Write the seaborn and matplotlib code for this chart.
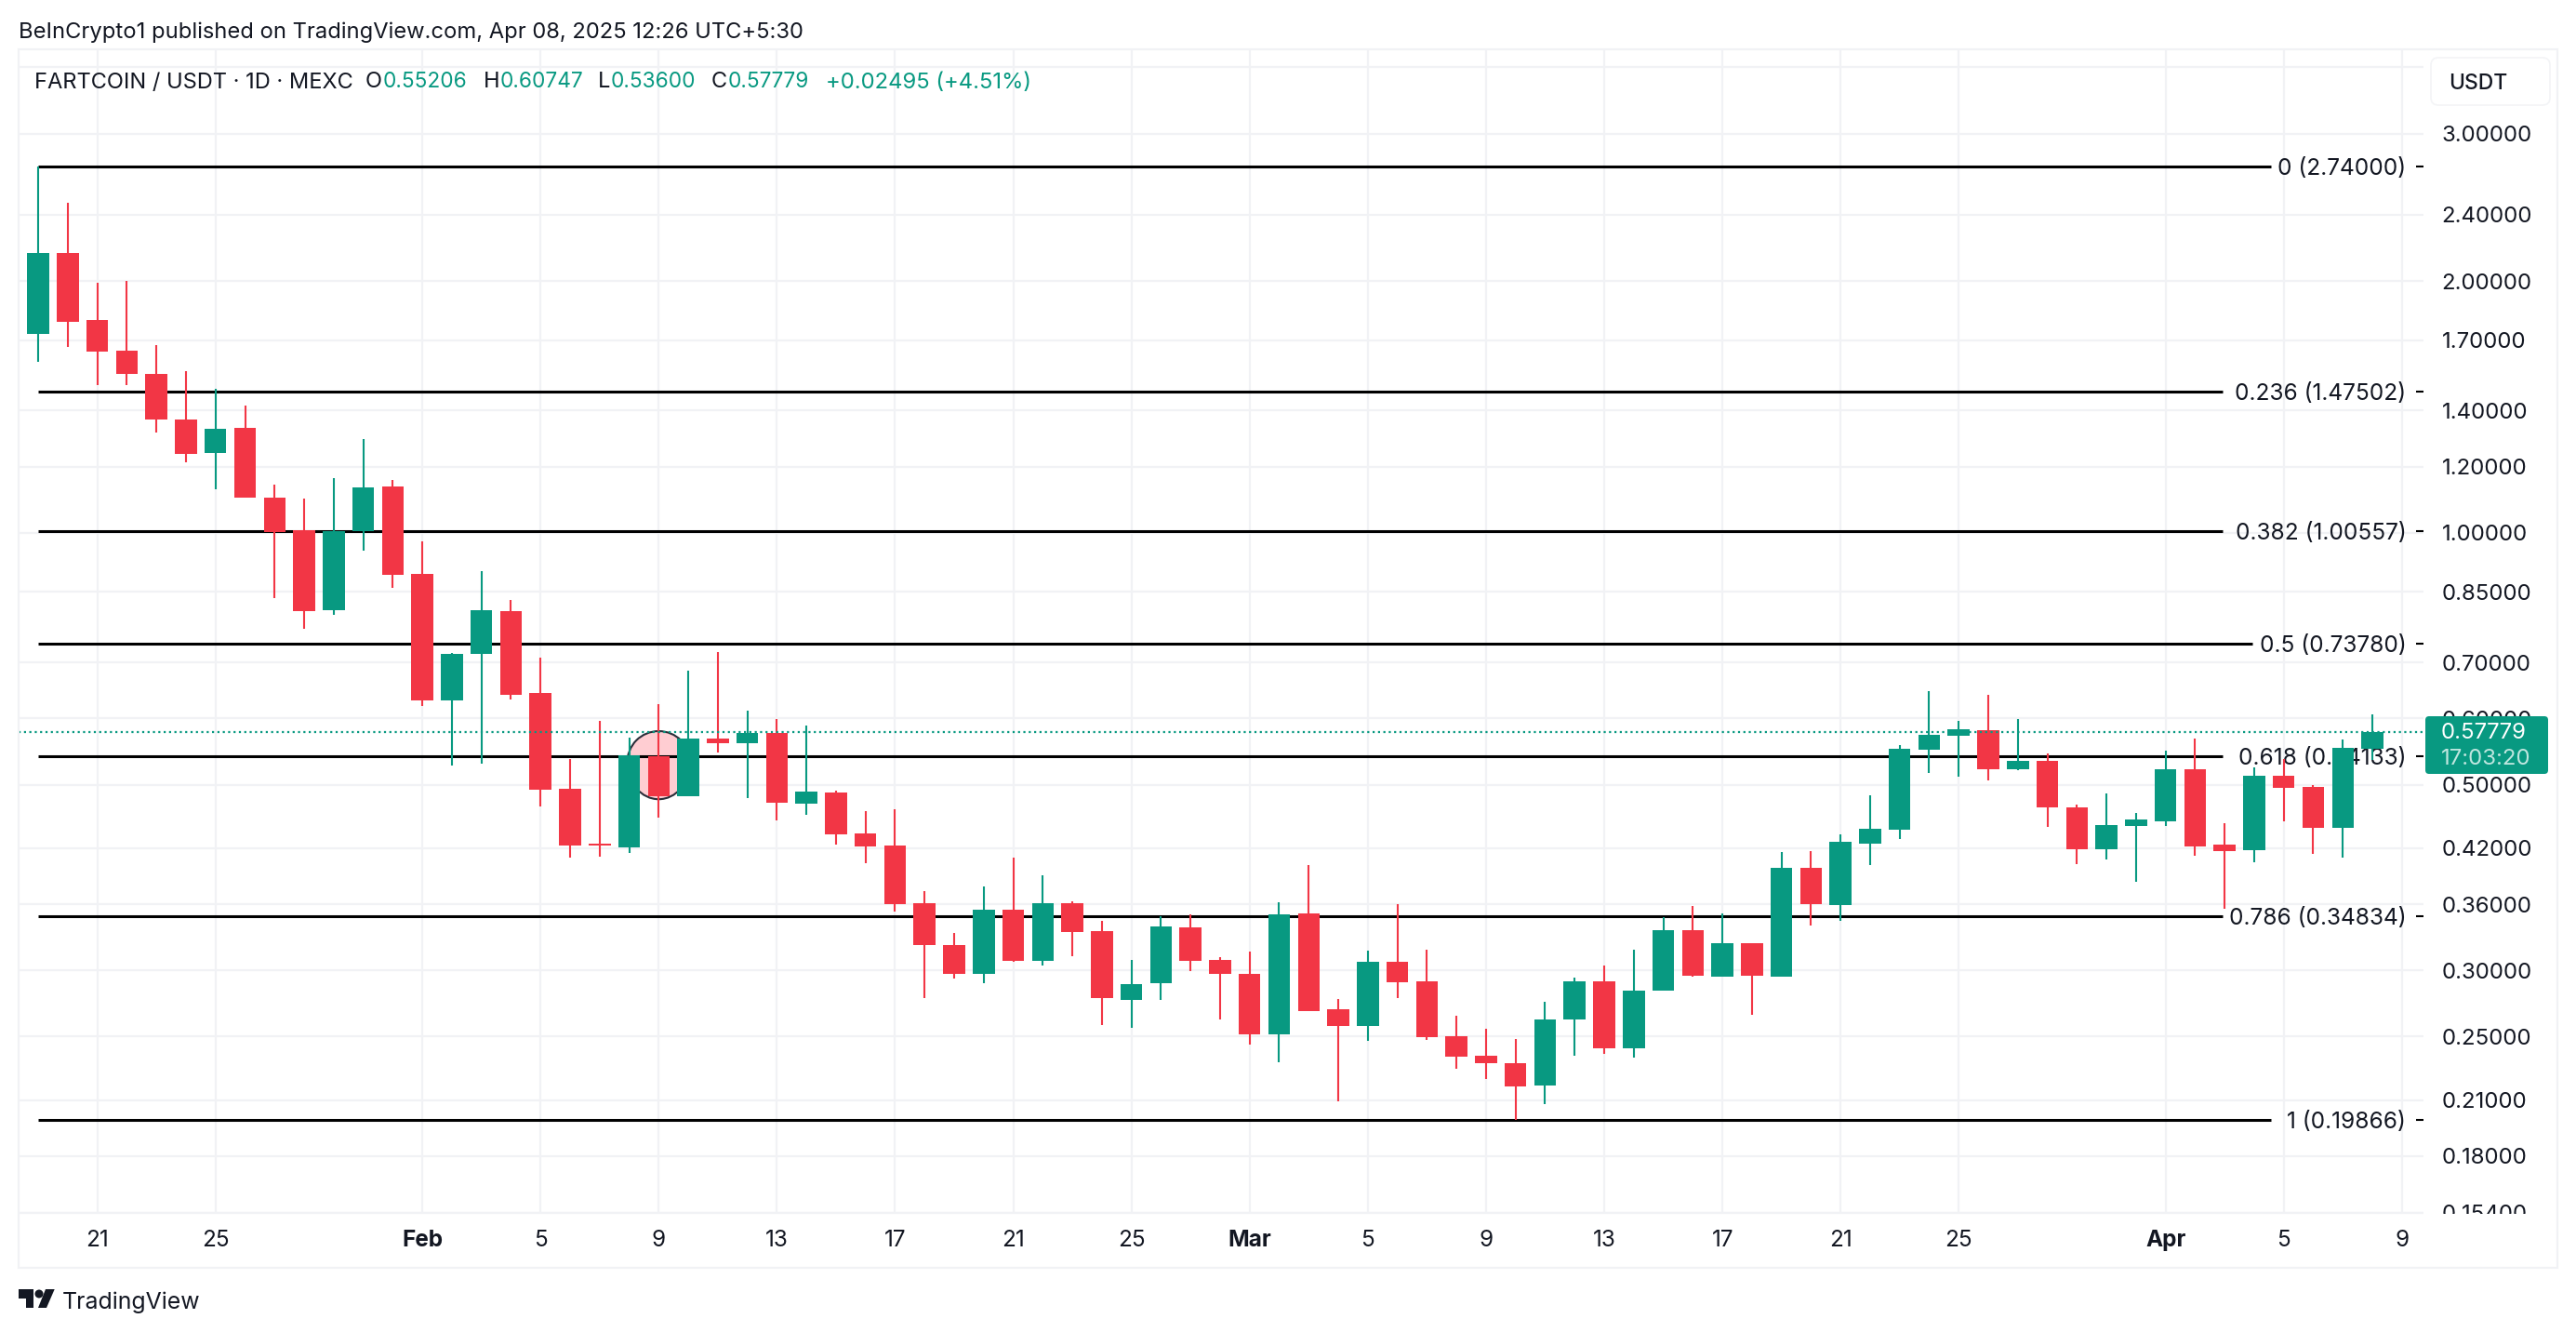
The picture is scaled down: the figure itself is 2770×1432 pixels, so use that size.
import matplotlib
matplotlib.use('Agg')
import matplotlib.pyplot as plt
from matplotlib.patches import Ellipse, FancyBboxPatch, Polygon, Circle, Rectangle
from matplotlib.transforms import Affine2D, Bbox
import pandas as pd
import seaborn as sns

W, H = 2770, 1432
GREEN = '#089981'
RED = '#F23645'
INK = '#131722'
GRID = '#F1F2F5'

# one candle per day, first one is Jan 19
opens = [1.729, 2.160, 1.797, 1.651, 1.549, 1.366, 1.247, 1.335, 1.102, 1.007,
         0.809, 1.006, 1.136, 0.893, 0.631, 0.7175, 0.806, 0.644, 0.495, 0.425,
         0.4212, 0.5415, 0.484, 0.568, 0.561, 0.577, 0.4752, 0.4895, 0.4373, 0.423,
         0.361, 0.322, 0.2975, 0.3546, 0.3083, 0.361, 0.3344, 0.2767, 0.2893, 0.3377,
         0.3089, 0.2972, 0.2518, 0.351, 0.2696, 0.2576, 0.3072, 0.2912, 0.2504, 0.2373,
         0.2325, 0.2188, 0.2618, 0.2912, 0.2424, 0.284, 0.3352, 0.2951, 0.3234, 0.2951,
         0.3978, 0.3594, 0.4255, 0.4423, 0.551, 0.5727, 0.5811, 0.5223, 0.534, 0.4699,
         0.4192, 0.4468, 0.4525, 0.5219, 0.4242, 0.4181, 0.5127, 0.497, 0.4445, 0.55206]
highs = [2.74, 2.481, 1.99, 1.999, 1.677, 1.561, 1.487, 1.42, 1.142, 1.099,
         1.163, 1.295, 1.157, 0.977, 0.719, 0.9, 0.831, 0.71, 0.537, 0.596,
         0.569, 0.624, 0.685, 0.7205, 0.6135, 0.599, 0.5886, 0.492, 0.465, 0.4675,
         0.3733, 0.3326, 0.378, 0.409, 0.3898, 0.3628, 0.3439, 0.3089, 0.3483, 0.3502,
         0.3113, 0.316, 0.362, 0.4009, 0.2775, 0.3169, 0.36, 0.3176, 0.2648, 0.2556,
         0.2484, 0.2752, 0.2942, 0.3041, 0.3176, 0.3474, 0.3584, 0.351, 0.3234, 0.4156,
         0.4166, 0.4363, 0.4857, 0.5578, 0.6471, 0.5962, 0.6405, 0.5993, 0.5451, 0.4735,
         0.4883, 0.4628, 0.5493, 0.568, 0.4499, 0.5245, 0.5367, 0.4997, 0.5665, 0.60747]
lows = [1.602, 1.669, 1.503, 1.503, 1.319, 1.215, 1.128, 1.103, 0.836, 0.769,
        0.799, 0.953, 0.86, 0.621, 0.5276, 0.53, 0.633, 0.471, 0.4095, 0.4106,
        0.414, 0.4572, 0.484, 0.5465, 0.4825, 0.4537, 0.4605, 0.4245, 0.4034, 0.3528,
        0.278, 0.2937, 0.2893, 0.3068, 0.3043, 0.312, 0.258, 0.2562, 0.2767, 0.2997,
        0.2618, 0.2443, 0.2331, 0.2684, 0.2094, 0.2468, 0.2783, 0.248, 0.229, 0.2227,
        0.1986, 0.2078, 0.2374, 0.2382, 0.2362, 0.284, 0.2949, 0.2951, 0.2657, 0.2951,
        0.3398, 0.3442, 0.4012, 0.4312, 0.517, 0.5114, 0.5065, 0.5209, 0.4457, 0.4022,
        0.4074, 0.3832, 0.4468, 0.4116, 0.3558, 0.4043, 0.4526, 0.4137, 0.4095, 0.536]
closes = [2.16, 1.789, 1.648, 1.55, 1.367, 1.244, 1.332, 1.103, 1.003, 0.807,
          1.005, 1.133, 0.892, 0.631, 0.717, 0.808, 0.641, 0.4935, 0.423, 0.423,
          0.542, 0.484, 0.568, 0.561, 0.577, 0.4764, 0.491, 0.4365, 0.422, 0.36,
          0.322, 0.2968, 0.3546, 0.3083, 0.361, 0.333, 0.2777, 0.289, 0.3387, 0.3083,
          0.2968, 0.2518, 0.3502, 0.2684, 0.2576, 0.3072, 0.2907, 0.2499, 0.2368, 0.2322,
          0.2182, 0.2622, 0.2912, 0.2424, 0.2838, 0.3352, 0.2957, 0.3234, 0.2957, 0.3978,
          0.3603, 0.4274, 0.4431, 0.5521, 0.5737, 0.5826, 0.5223, 0.534, 0.4703, 0.4192,
          0.4477, 0.4545, 0.5219, 0.4223, 0.417, 0.5127, 0.4962, 0.4445, 0.5535, 0.57779]

fib_levels = [2.74, 1.47502, 1.00557, 0.7378, 0.54133, 0.34834, 0.19866]
fib_labels = ['0 (2.74000)', '0.236 (1.47502)', '0.382 (1.00557)', '0.5 (0.73780)',
              '0.618 (0.54133)', '0.786 (0.34834)', '1 (0.19866)']
fib_line_end = [75.56, 73.94, 73.94, 74.94, 73.94, 73.94, 75.56]

price_ticks = [3.6, 3.0, 2.4, 2.0, 1.7, 1.4, 1.2, 1.0, 0.85, 0.7, 0.6, 0.5, 0.42, 0.36, 0.3, 0.25, 0.21, 0.18, 0.154]
price_labels = ['', '3.00000', '2.40000', '2.00000', '1.70000', '1.40000', '1.20000', '1.00000', '0.85000',
                '0.70000', '0.60000', '0.50000', '0.42000', '0.36000', '0.30000', '0.25000', '0.21000',
                '0.18000', '0.15400']
day_ticks = [2, 6, 13, 17, 21, 25, 29, 33, 37, 41, 45, 49, 53, 57, 61, 65, 72, 76, 80]
day_labels = ['21', '25', 'Feb', '5', '9', '13', '17', '21', '25', 'Mar', '5', '9', '13', '17', '21', '25',
              'Apr', '5', '9']
last_close = 0.57779

candles = pd.DataFrame({'day': range(len(opens)), 'open': opens, 'high': highs, 'low': lows, 'close': closes})
candles['up'] = candles['close'] >= candles['open']
candles['body_low'] = candles[['open', 'close']].min(axis=1)
candles['body_height'] = (candles['open'] - candles['close']).abs()

sns.set_theme(style='white')
plt.rcParams['font.family'] = ['Inter', 'DejaVu Sans']

fig = plt.figure(figsize=(W / 100, H / 100), dpi=100, facecolor='white')
ax = fig.add_axes([19.5 / W, 1 - 1304 / H, (2606 - 19.5) / W, (1304 - 53) / H])
ax.set_yscale('log')

# everything outside the pane is placed in image pixels
px = Affine2D().scale(1 / W, -1 / H).translate(0, 1) + fig.transFigure

ax.add_patch(Ellipse((21, 0.53), 2.14, 0.099, facecolor='#FFCDD2', edgecolor='#2A2E39', lw=1.5, zorder=1.9))

ax.hlines(fib_levels, 0, fib_line_end, color='black', lw=2.2, zorder=2)
ax.hlines(fib_levels, 80.49, 80.73, color='black', lw=1.5, zorder=2)
for level, label in zip(fib_levels, fib_labels):
    ax.text(80.14, level, label, ha='right', va='center_baseline', fontsize=17.6, color=INK, zorder=2.2)

for up, color in [(True, GREEN), (False, RED)]:
    part = candles[candles['up'] == up]
    ax.vlines(part['day'], part['low'], part['high'], color=color, lw=1.5, zorder=2.6)
    sns.barplot(data=part, x='day', y='body_height', bottom=part['body_low'].values, native_scale=True,
                color=color, saturation=1, width=0.74, errorbar=None, linewidth=0, ax=ax, zorder=3)

ax.axhline(last_close, color=GREEN, lw=1.6, ls=(0, (1, 1.6)), zorder=3.5)

ax.set_xlim(-0.68, 80.73)
ax.set_ylim(0.1539, 3.784)
ax.set_xlabel('')
ax.set_ylabel('')
ax.set_axisbelow(True)
ax.grid(True, color=GRID, lw=1.6)
ax.minorticks_off()
ax.set_xticks(day_ticks)
ax.set_xticklabels(day_labels, fontsize=17.5, color=INK)
ax.get_xticklabels()[2].set_fontweight('bold')
ax.get_xticklabels()[9].set_fontweight('bold')
ax.get_xticklabels()[16].set_fontweight('bold')
ax.yaxis.tick_right()
ax.set_yticks(price_ticks)
ax.set_yticklabels(price_labels, fontsize=17.3, color=INK)
ax.minorticks_off()
ax.tick_params(axis='x', length=0, pad=13)
ax.tick_params(axis='y', length=0, pad=14)
for spine in ax.spines.values():
    spine.set_visible(False)
# the lowest price label gets cut by the bottom of the pane
for lab in ax.get_yticklabels():
    lab.set_clip_on(True)
    lab.set_clip_box(Bbox([[0, 1432 - 1305], [W, H]]))

# outer frame of the chart
fig.add_artist(Rectangle((19.5, 53), 2750 - 19.5, 1363 - 53, transform=px, fill=False, edgecolor=GRID, lw=1.6))
fig.add_artist(Rectangle((19.5, 1304), 2606 - 19.5, 0, transform=px, fill=False, edgecolor=GRID, lw=1.6))

fig.add_artist(FancyBboxPatch((2614, 62), 128, 51, boxstyle='round,pad=0,rounding_size=8', transform=px,
                              facecolor='white', edgecolor='#F3F4F6', lw=1.2))
fig.text(2633, 87, 'USDT', transform=px, fontsize=16.5, color=INK, va='center_baseline', fontweight='medium')

# last price tag sits on top of the 0.60 label
fig.add_artist(FancyBboxPatch((2608, 770), 132, 62, boxstyle='round,pad=0,rounding_size=4', transform=px,
                              facecolor=GREEN, edgecolor='none', zorder=6))
fig.text(2625, 786, '0.57779', transform=px, fontsize=17.3, color='white', va='center_baseline', zorder=7)
fig.text(2625, 814, '17:03:20', transform=px, fontsize=17.3, color='#BFE6DF', va='center_baseline', zorder=7)

fig.text(20, 32, 'BeInCrypto1 published on TradingView.com, Apr 08, 2025 12:26 UTC+5:30', transform=px,
         fontsize=17.1, color=INK, va='center_baseline')

# legend row, pieces placed one by one
legend_row = [(36.7, 'FARTCOIN / USDT · 1D · MEXC', INK, 17), (393, 'O', INK, 17), (411.6, '0.55206', GREEN, 16.3),
              (520, 'H', INK, 17), (538, '0.60747', GREEN, 16.3), (642.7, 'L', INK, 17), (657, '0.53600', GREEN, 16.3),
              (765, 'C', INK, 17), (782.7, '0.57779', GREEN, 16.3), (888, '+0.02495 (+4.51%)', GREEN, 17.2)]
for x0, piece, color, size in legend_row:
    fig.text(x0, 86, piece, transform=px, fontsize=size, color=color, va='center_baseline')

# TradingView logo
fig.add_artist(Polygon([(19.5, 1386), (36, 1386), (36, 1406), (28, 1406), (28, 1396), (19.5, 1396)],
                       transform=px, facecolor=INK, edgecolor='none'))
fig.add_artist(Circle((42, 1391), 4.5, transform=px, facecolor=INK, edgecolor='none'))
fig.add_artist(Polygon([(49, 1386), (58.7, 1386), (50, 1406), (41, 1406)], transform=px, facecolor=INK,
                       edgecolor='none'))
fig.text(67, 1398, 'TradingView', transform=px, fontsize=17.9, color=INK, va='center_baseline')

fig.savefig('out.png', dpi=100)
